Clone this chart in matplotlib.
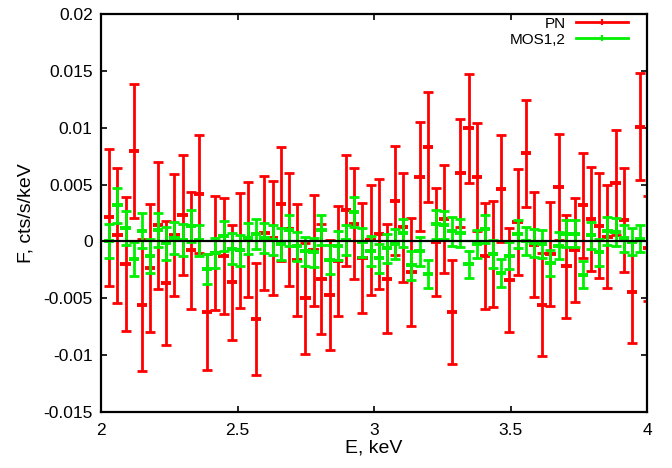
import matplotlib
matplotlib.use("Agg")
import matplotlib.pyplot as plt
from matplotlib.lines import Line2D
import numpy as np

plt.rcParams['font.family'] = ['Liberation Sans', 'DejaVu Sans']

# energy bins (keV), same grid for both instruments
energy = [2.030, 2.060, 2.090, 2.120, 2.150, 2.180, 2.209, 2.239, 2.269, 2.299,
          2.329, 2.359, 2.389, 2.419, 2.449, 2.479, 2.508, 2.538, 2.568, 2.598,
          2.628, 2.658, 2.688, 2.718, 2.748, 2.778, 2.807, 2.837, 2.867, 2.897,
          2.927, 2.957, 2.987, 3.017, 3.047, 3.077, 3.106, 3.136, 3.166, 3.196,
          3.226, 3.256, 3.286, 3.316, 3.346, 3.376, 3.405, 3.435, 3.465, 3.495,
          3.525, 3.555, 3.585, 3.615, 3.645, 3.675, 3.704, 3.734, 3.764, 3.794,
          3.824, 3.854, 3.884, 3.914, 3.944, 3.974, 4.004]
e_halfwidth = 0.019

# PN residuals, units of 1e-3 cts/s/keV
pn_flux = [2.11, 0.53, -1.99, 7.97, -5.57, -2.34, 1.41, -3.66, 0.53, 2.34,
           -0.79, 4.19, -6.21, -1.03, -1.29, -3.60, -0.79, 0.15, -6.82, 0.73,
           0.32, 3.28, 1.08, -1.61, -5.00, -0.79, -3.31, -4.69, -1.70, 2.72,
           1.55, -1.49, 0.15, 0.64, -3.28, 3.57, 1.23, -2.69, 5.68, 8.29,
           -0.06, 1.96, -6.21, 6.03, 9.93, 5.68, -1.26, -1.14, 4.63, -3.37,
           1.73, 7.76, -0.29, -5.57, -1.11, 4.80, -2.20, -0.79, 3.16, 1.99,
           1.38, 0.41, 5.18, 1.90, -4.42, 10.10, -0.60]
pn_err = [5.99, 5.92, 5.89, 5.90, 5.80, 5.65, 5.61, 5.45, 5.37, 5.29,
          5.16, 5.20, 5.10, 5.04, 5.08, 5.04, 5.04, 5.05, 4.92, 4.99,
          5.01, 4.99, 4.96, 4.92, 4.89, 4.88, 4.85, 4.82, 4.85, 4.88,
          4.88, 4.83, 4.85, 4.83, 4.77, 4.79, 4.80, 4.72, 4.79, 4.85,
          4.76, 4.75, 4.58, 4.75, 4.79, 4.75, 4.66, 4.66, 4.72, 4.58,
          4.67, 4.72, 4.63, 4.55, 4.60, 4.67, 4.53, 4.58, 4.63, 4.58,
          4.60, 4.55, 4.63, 4.57, 4.48, 4.67, 4.60]

# MOS1,2 residuals, units of 1e-3 cts/s/keV
mos_flux = [0.06, 3.16, 1.17, -1.55, 0.94, -1.32, 1.03, -0.15, 0.29, 0.15,
            1.32, 0.09, -2.43, -1.03, 0.50, -0.64, -0.79, 0.29, 0.67, 0.29,
            0.15, -0.23, 0.97, -0.44, -0.88, -0.97, 1.03, -1.61, -0.38, 0.15,
            2.55, -0.09, -0.85, -1.49, -0.59, -0.23, 0.73, -2.11, -0.88, -2.84,
            1.52, 1.46, 0.88, 0.76, -1.99, -0.23, 1.11, -1.11, -2.78, -1.26,
            0.64, 0.00, -0.15, -0.20, -1.90, -0.38, 0.67, 0.67, -2.93, 0.53,
            -0.97, 0.94, 0.82, 0.29, -0.03, 0.23]
mos_err = [1.50, 1.52, 1.50, 1.52, 1.52, 1.50, 1.50, 1.45, 1.42, 1.40,
           1.40, 1.38, 1.28, 1.32, 1.32, 1.34, 1.35, 1.37, 1.32, 1.31,
           1.31, 1.38, 1.34, 1.28, 1.28, 1.25, 1.31, 1.28, 1.29, 1.31,
           1.32, 1.31, 1.31, 1.28, 1.28, 1.28, 1.26, 1.28, 1.28, 1.22,
           1.28, 1.25, 1.25, 1.25, 1.19, 1.23, 1.23, 1.22, 1.22, 1.19,
           1.20, 1.23, 1.23, 1.23, 1.18, 1.20, 1.20, 1.20, 1.18, 1.20,
           1.18, 1.25, 1.20, 1.19, 1.20, 1.18]

yticks = [0.02, 0.015, 0.01, 0.005, 0, -0.005, -0.01, -0.015]
ytick_labels = ["0.02", "0.015", "0.01", "0.005", "0", "-0.005", "-0.01", "-0.015"]
xticks = [2, 2.5, 3, 3.5, 4]
xtick_labels = ["2", "2.5", "3", "3.5", "4"]

fig = plt.figure(figsize=(6.72, 4.68), dpi=100)
ax = fig.add_axes([0.1503, 0.1197, 0.8130, 0.8504])

e = np.array(energy)
pn = np.array(pn_flux) * 1e-3
pne = np.array(pn_err) * 1e-3
mos = np.array(mos_flux) * 1e-3
mose = np.array(mos_err) * 1e-3
em = e[:len(mos)]

red = '#ff0000'
green = '#00f000'

# vertical bars with caps, horizontal bin bars without
ax.errorbar(e, pn, yerr=pne, fmt='none', ecolor=red,
            elinewidth=2.0, capsize=3.4, capthick=2.0, zorder=2)
ax.errorbar(e, pn, xerr=e_halfwidth, fmt='none', ecolor=red,
            elinewidth=2.8, capsize=0, zorder=2)
ax.errorbar(em, mos, yerr=mose, fmt='none', ecolor=green,
            elinewidth=2.0, capsize=3.4, capthick=2.0, zorder=3)
ax.errorbar(em, mos, xerr=e_halfwidth, fmt='none', ecolor=green,
            elinewidth=2.8, capsize=0, zorder=3)
ax.axhline(0, color='black', lw=1.6, zorder=4)

ax.set_xlim(2, 4)
ax.set_ylim(-0.015, 0.02)
ax.set_xticks(xticks)
ax.set_xticklabels(xtick_labels)
ax.set_yticks(yticks)
ax.set_yticklabels(ytick_labels)
ax.tick_params(direction='in', length=4.5, width=1.2, top=True, right=True,
               labelsize=12.5)
ax.tick_params(axis='y', pad=6)
ax.tick_params(axis='x', pad=8)
for s in ax.spines.values():
    s.set_linewidth(1.6)

ax.set_xlabel("E, keV", fontsize=14, labelpad=1)
ax.set_ylabel("F, cts/s/keV", fontsize=14, labelpad=6)

handles = [Line2D([], [], color=red, lw=2.0, marker='|', markersize=4, markeredgewidth=1.5),
           Line2D([], [], color=green, lw=2.0, marker='|', markersize=4, markeredgewidth=1.5)]
ax.legend(handles, ["PN", "MOS1,2"], loc='upper right', frameon=False,
          markerfirst=False, fontsize=11, handlelength=3.4, handletextpad=0.7,
          labelspacing=0.12, borderaxespad=0, borderpad=0,
          bbox_to_anchor=(0.9647, 0.993))

fig.savefig("out.png", dpi=100)
